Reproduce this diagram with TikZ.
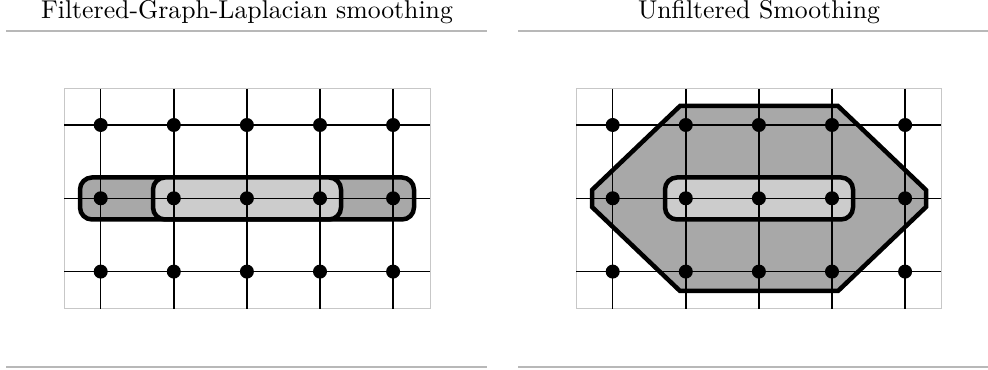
\documentclass[tikz,border=0pt]{standalone}
\usepackage{amsmath,amsfonts,amssymb}
\usepackage{xcolor}
\usepackage{tikz}
\usetikzlibrary{positioning}

\definecolor{darkfill}{HTML}{A8A8A8}
\definecolor{lightfill}{HTML}{CCCCCC}

\begin{document}
\begin{tikzpicture}[
    x=0.4pt, y=-0.4pt,
    dot/.style={circle, fill=black, inner sep=0pt, minimum size=5.6pt},
    gridline/.style={line width=0.6pt},
    frame/.style={draw=black!22, line width=0.4pt},
    rule/.style={draw=black!28, line width=0.6pt},
    title/.style={font=\fontsize{10.3}{12}\selectfont, anchor=base},
    region/.style={draw=black, line width=1.8pt, rounded corners=4.8pt}
]
    \useasboundingbox (0,0) rectangle (988,370);

    % titles and rules
    \node[title] (ltitle) at (247,18.5) {Filtered-Graph-Laplacian smoothing};
    \node[title] (rtitle) at (759,18.5) {Unfiltered Smoothing};
    \draw[rule] (6,31) -- (487,31);
    \draw[rule] (518,31) -- (988,31);
    \draw[rule] (6,367) -- (487,367);
    \draw[rule] (518,367) -- (988,367);

    % frames
    \draw[frame] (64,89) rectangle (430,309);
    \draw[frame] (576,89) rectangle (941,309);

    % left panel: overlapping regions
    \draw[region, fill=darkfill] (80,177.5) rectangle (414,219.5);
    \draw[region, fill=lightfill] (153,177.5) rectangle (341,219.5);

    % right panel: hexagon and inner region
    \draw[black, line width=1.8pt, line join=miter, fill=darkfill]
        (680,106) -- (838,106) -- (926,190) -- (926,207) -- (838,291)
        -- (680,291) -- (592,207) -- (592,190) -- cycle;
    \draw[region, fill=lightfill] (665,177.5) rectangle (853,219.5);

    % grids
    \foreach \ox/\fl/\fr/\p in {100.7/64/430/L, 612.7/576/941/R} {
        \foreach \i in {0,...,4}
            \draw[gridline] (\ox+\i*73.1,89) -- (\ox+\i*73.1,309);
        \foreach \j in {0,1,2}
            \draw[gridline] (\fl,125+\j*73.3) -- (\fr,125+\j*73.3);
        \foreach \i in {0,...,4}
            \foreach \j in {0,1,2}
                \node[dot] (\p-\i-\j) at (\ox+\i*73.1,125+\j*73.3) {};
    }
\end{tikzpicture}
\end{document}
